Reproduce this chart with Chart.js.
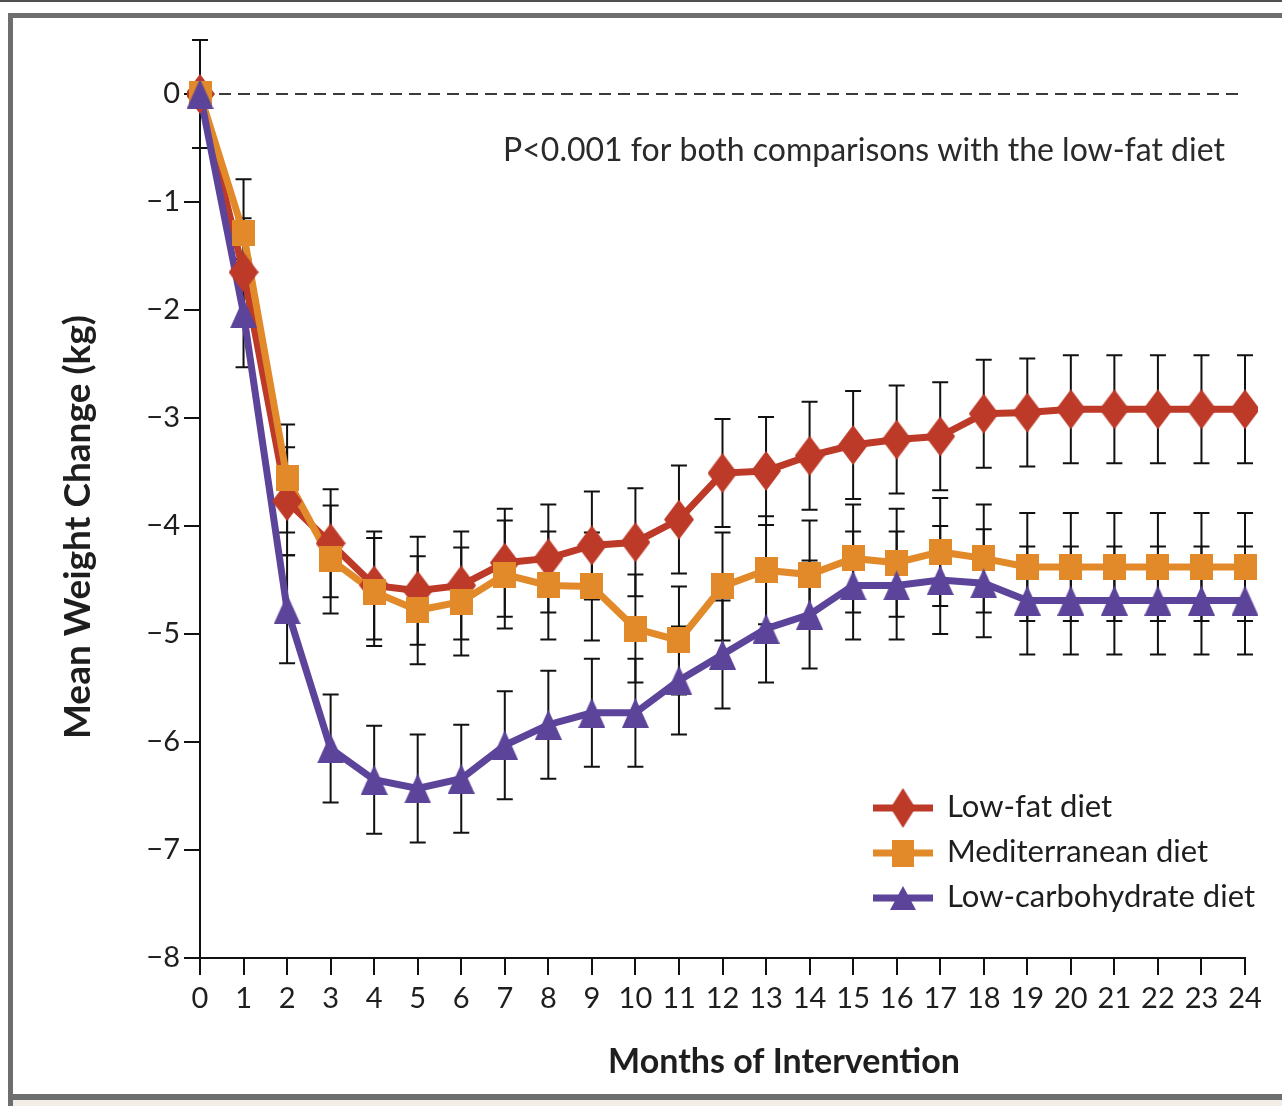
<!DOCTYPE html>
<html>
<head>
<meta charset="utf-8">
<title>Mean Weight Change</title>
<script src="https://cdn.jsdelivr.net/npm/chart.js@4.4.0/dist/chart.umd.min.js"></script>
<style>
  html, body { margin: 0; padding: 0; background: #fff; overflow: hidden; }
  #page { position: relative; width: 1282px; height: 1106px; }
  .rule { position: absolute; background: #6d6e70; }
  #wrap { position: absolute; left: 0; top: 0; width: 1282px; height: 1106px; }
</style>
</head>
<body>
<div id="page">
  <div class="rule" style="left:0;top:0;width:1282px;height:2px;background:#505050"></div>
  <div class="rule" style="left:8px;top:13px;width:1274px;height:5px"></div>
  <div class="rule" style="left:8px;top:13px;width:5px;height:1093px"></div>
  <div class="rule" style="left:8px;top:1094px;width:1274px;height:6px"></div>
  <div class="rule" style="left:13px;top:1100px;width:1269px;height:6px;background:#f3ede7"></div>
  <div id="wrap"><canvas id="diagram"></canvas></div>
</div>
<script>
// values (kg)
var months = ['0','1','2','3','4','5','6','7','8','9','10','11','12','13','14','15','16','17','18','19','20','21','22','23','24'];
var lowFat = [0, -1.65, -3.77, -4.16, -4.55, -4.60, -4.55, -4.34, -4.30, -4.18, -4.15, -3.94, -3.51, -3.49, -3.35, -3.25, -3.20, -3.17, -2.96, -2.95, -2.92, -2.92, -2.92, -2.92, -2.92];
var mediterranean = [0, -1.29, -3.56, -4.31, -4.61, -4.78, -4.70, -4.45, -4.55, -4.56, -4.95, -5.06, -4.56, -4.41, -4.45, -4.30, -4.34, -4.24, -4.30, -4.38, -4.38, -4.38, -4.38, -4.38, -4.38];
var lowCarb = [0, -2.03, -4.77, -6.06, -6.35, -6.43, -6.34, -6.03, -5.84, -5.73, -5.73, -5.43, -5.19, -4.95, -4.82, -4.55, -4.55, -4.50, -4.53, -4.69, -4.69, -4.69, -4.69, -4.69, -4.69];
// half length of the error bars (kg)
var lowFatErr = [0.5, 0.5, 0.5, 0.5, 0.5, 0.5, 0.5, 0.5, 0.5, 0.5, 0.5, 0.5, 0.5, 0.5, 0.5, 0.5, 0.5, 0.5, 0.5, 0.5, 0.5, 0.5, 0.5, 0.5, 0.5];
var mediterraneanErr = [0.5, 0.5, 0.5, 0.5, 0.5, 0.5, 0.5, 0.5, 0.5, 0.5, 0.5, 0.5, 0.5, 0.5, 0.5, 0.5, 0.5, 0.5, 0.5, 0.5, 0.5, 0.5, 0.5, 0.5, 0.5];
var lowCarbErr = [0.5, 0.5, 0.5, 0.5, 0.5, 0.5, 0.5, 0.5, 0.5, 0.5, 0.5, 0.5, 0.5, 0.5, 0.5, 0.5, 0.5, 0.5, 0.5, 0.5, 0.5, 0.5, 0.5, 0.5, 0.5];
var seriesNames = ['Low-fat diet', 'Mediterranean diet', 'Low-carbohydrate diet'];
var noteText = 'P<0.001 for both comparisons with the low-fat diet';
var xTitle = 'Months of Intervention';
var yTitle = 'Mean Weight Change (kg)';

var RED = '#bd3a28', ORANGE = '#e2892a', PURPLE = '#5b449a', INK = '#1e1e1e';
var FONT = 'Lato, "Open Sans", sans-serif';

function marker(shape, w, h, color){
  var c = document.createElement('canvas');
  c.width = w; c.height = h;
  var g = c.getContext('2d');
  g.fillStyle = color;
  g.beginPath();
  if(shape === 'diamond'){
    g.moveTo(w/2, 0); g.lineTo(w, h/2); g.lineTo(w/2, h); g.lineTo(0, h/2);
  } else if(shape === 'square'){
    g.rect(0, 0, w, h);
  } else {
    g.moveTo(w/2, 0); g.lineTo(w, h); g.lineTo(0, h);
  }
  g.closePath();
  g.fill();
  return c;
}

var pts = [marker('diamond', 30, 40, RED), marker('square', 23, 26, ORANGE), marker('triangle', 27, 30, PURPLE)];
var legendPts = [marker('diamond', 25, 40, RED), marker('square', 22, 27, ORANGE), marker('triangle', 26, 24, PURPLE)];

// error bars and the dashed zero line, behind the series
var errorBars = {
  id: 'errorBars',
  beforeDatasetsDraw: function(chart){
    var ctx = chart.ctx, y = chart.scales.y, area = chart.chartArea;
    ctx.save();
    ctx.strokeStyle = '#3a3a3a';
    ctx.lineWidth = 2;
    ctx.setLineDash([12, 7]);
    var y0 = y.getPixelForValue(0);
    ctx.beginPath(); ctx.moveTo(area.left, y0); ctx.lineTo(area.right, y0); ctx.stroke();
    ctx.setLineDash([]);
    ctx.strokeStyle = '#111';
    chart.data.datasets.forEach(function(ds, i){
      if(!ds.errors) return;
      var meta = chart.getDatasetMeta(i);
      meta.data.forEach(function(pt, j){
        var top = y.getPixelForValue(ds.data[j] + ds.errors[j]);
        var bot = y.getPixelForValue(ds.data[j] - ds.errors[j]);
        ctx.beginPath();
        ctx.moveTo(pt.x, top); ctx.lineTo(pt.x, bot);
        ctx.moveTo(pt.x - 8, top); ctx.lineTo(pt.x + 8, top);
        ctx.moveTo(pt.x - 8, bot); ctx.lineTo(pt.x + 8, bot);
        ctx.stroke();
      });
    });
    ctx.restore();
  }
};

// titles, note and legend
var labels = {
  id: 'labels',
  afterDraw: function(chart){
    var ctx = chart.ctx;
    ctx.save();
    ctx.fillStyle = INK;
    ctx.textBaseline = 'middle';
    ctx.textAlign = 'center';
    ctx.font = 'bold 34px ' + FONT;
    ctx.fillText(xTitle, 784, 1062);
    ctx.save();
    ctx.translate(78, 527);
    ctx.rotate(-Math.PI / 2);
    ctx.font = 'bold 37px ' + FONT;
    ctx.fillText(yTitle, 0, 0);
    ctx.restore();

    ctx.font = '32px ' + FONT;
    ctx.fillStyle = '#2a2a2a';
    ctx.fillText(noteText, 864, 151);

    var colors = [RED, ORANGE, PURPLE];
    ctx.textAlign = 'left';
    ctx.font = '31px ' + FONT;
    for(var i = 0; i < seriesNames.length; i++){
      var ly = 808 + i * 45;
      ctx.strokeStyle = colors[i];
      ctx.lineWidth = 7;
      ctx.beginPath(); ctx.moveTo(873, ly); ctx.lineTo(933, ly); ctx.stroke();
      var m = legendPts[i];
      ctx.drawImage(m, 903 - m.width / 2, ly - m.height / 2);
      ctx.fillStyle = INK;
      ctx.fillText(seriesNames[i], 947, ly - 1);
    }
    ctx.restore();
  }
};

// lines go under every marker, so each series is a line dataset plus a marker dataset
function lineSet(label, values, color, order){
  return {
    label: label, data: values,
    borderColor: color, backgroundColor: color,
    borderWidth: 7, pointRadius: 0, tension: 0,
    order: order
  };
}
function markSet(label, values, errs, color, pt, order){
  return {
    label: label, data: values, errors: errs,
    borderColor: color, backgroundColor: color,
    showLine: false, pointStyle: pt,
    pointRadius: 12, pointHoverRadius: 12,
    order: order
  };
}

var diagram = document.getElementById('diagram').getContext('2d');
var chart = new Chart(diagram, {
  type: 'line',
  data: {
    labels: months,
    datasets: [
      lineSet(seriesNames[0], lowFat, RED, 5),
      lineSet(seriesNames[1], mediterranean, ORANGE, 4),
      lineSet(seriesNames[2], lowCarb, PURPLE, 3),
      markSet(seriesNames[0], lowFat, lowFatErr, RED, pts[0], 2),
      markSet(seriesNames[1], mediterranean, mediterraneanErr, ORANGE, pts[1], 1),
      markSet(seriesNames[2], lowCarb, lowCarbErr, PURPLE, pts[2], 0)
    ]
  },
  plugins: [errorBars, labels],
  options: {
    responsive: true,
    maintainAspectRatio: false,
    animation: false,
    events: [],
    layout: { padding: { top: 40, right: 37, bottom: 0, left: 0 } },
    plugins: {
      legend: { display: false },
      tooltip: { enabled: false }
    },
    scales: {
      x: {
        offset: false,
        afterFit: function(scale){ scale.height = 148; },
        border: { display: true, color: '#111', width: 2 },
        grid: { display: true, drawOnChartArea: false, drawTicks: true, tickLength: 17, color: '#111', lineWidth: 2 },
        ticks: { autoSkip: false, maxRotation: 0, padding: 6, color: INK, font: { family: FONT, size: 29 } }
      },
      y: {
        min: -8,
        max: 0.5,
        afterFit: function(scale){ scale.width = 200; },
        border: { display: true, color: '#111', width: 2 },
        grid: { display: true, drawOnChartArea: false, drawTicks: true, tickLength: 16, color: '#111', lineWidth: 2 },
        ticks: {
          stepSize: 1,
          includeBounds: false,
          padding: 4,
          color: INK,
          font: { family: FONT, size: 29 },
          callback: function(v){ return v < 0 ? '\u2212' + Math.abs(v) : String(v); }
        }
      }
    }
  }
});
</script>
</body>
</html>
